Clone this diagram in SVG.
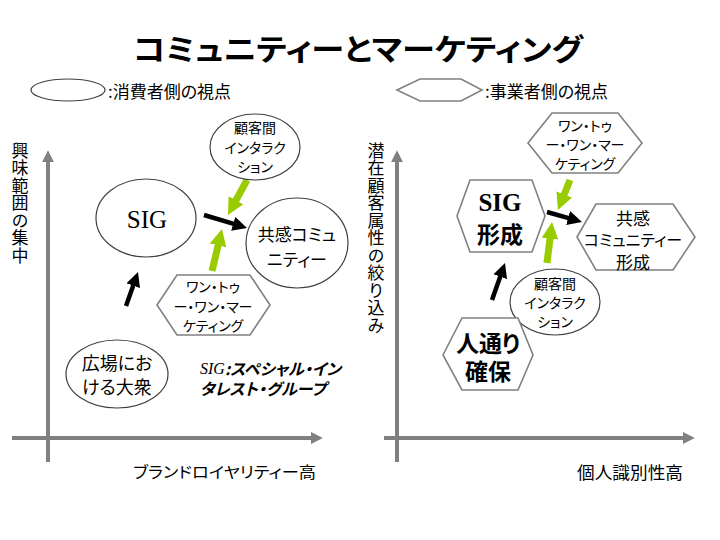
<svg xmlns="http://www.w3.org/2000/svg" width="720" height="540" viewBox="0 0 720 540">
<style>
text{font-family:"Noto Sans CJK JP","Liberation Sans",sans-serif;fill:#000;font-feature-settings:"palt";}
.c{text-anchor:middle;dominant-baseline:central;}
.v{writing-mode:vertical-rl;font-feature-settings:normal;font-size:17px;letter-spacing:0.5px;}
.ell{fill:#fff;stroke:#404040;stroke-width:1.2;}
.hex{fill:#fff;stroke:#808080;stroke-width:1.6;}
.axis{stroke:#808080;stroke-width:4;fill:none;}
.blk{stroke:#000;stroke-width:4.5;fill:none;}
.grn{stroke:#99CC00;stroke-width:7;fill:none;}
.s14{font-size:14px;}
.s17{font-size:17px;}
.ser{font-family:"Liberation Serif","DejaVu Serif",serif;}
</style>
<defs>
<marker id="ha" viewBox="0 0 10 10" refX="1" refY="5" markerWidth="3" markerHeight="3" orient="auto"><path d="M0,0L10,5L0,10z" fill="#808080"/></marker>
<marker id="hb" viewBox="0 0 10 10" refX="1" refY="5" markerWidth="3.2" markerHeight="3.2" orient="auto"><path d="M0,0L10,5L0,10z" fill="#000"/></marker>
<marker id="hg" viewBox="0 0 10 10" refX="1" refY="5" markerWidth="2.4" markerHeight="2.4" orient="auto"><path d="M0,0L10,5L0,10z" fill="#99CC00"/></marker>
</defs>
<rect width="720" height="540" fill="#fff"/>

<g id="title"><text x="358" y="47" class="c" textLength="450" lengthAdjust="spacingAndGlyphs" style="font-size:30px;font-weight:bold">コミュニティーとマーケティング</text></g>

<g id="legend-consumer">
<ellipse class="ell" cx="68" cy="90" rx="37" ry="11"/>
<text x="108" y="90" class="s17" style="dominant-baseline:central">:消費者側の視点</text>
</g>
<g id="legend-business">
<polygon class="hex" points="397,90 420,79 461,79 482,90 461,101 420,101"/>
<text x="485" y="90" class="s17" style="dominant-baseline:central">:事業者側の視点</text>
</g>

<g id="axes">
<line class="axis" x1="48" y1="462" x2="48" y2="161" marker-end="url(#ha)"/>
<line class="axis" x1="12" y1="438" x2="312" y2="438" marker-end="url(#ha)"/>
<line class="axis" x1="397" y1="462" x2="397" y2="161" marker-end="url(#ha)"/>
<line class="axis" x1="384" y1="438" x2="684" y2="438" marker-end="url(#ha)"/>
</g>

<g id="axis-labels">
<text class="v" x="20" y="142">興味範囲の集中</text>
<text class="v" x="376" y="142">潜在顧客属性の絞り込み</text>
<text x="224.5" y="471" class="c" textLength="183" lengthAdjust="spacingAndGlyphs" style="font-size:15.5px">ブランドロイヤリティー高</text>
<text x="630" y="471" class="c s17" textLength="106" lengthAdjust="spacingAndGlyphs">個人識別性高</text>
</g>

<g id="connectors">
<line class="blk" x1="126" y1="306" x2="133.7" y2="284.3" marker-end="url(#hb)"/>
<line class="blk" x1="204" y1="215" x2="234.6" y2="224.2" marker-end="url(#hb)"/>
<line class="grn" x1="247" y1="180" x2="235.2" y2="201.7" marker-end="url(#hg)"/>
<line class="grn" x1="212" y1="271" x2="218.5" y2="243.7" marker-end="url(#hg)"/>
<line class="blk" x1="492" y1="300" x2="500.7" y2="275.3" marker-end="url(#hb)"/>
<line class="blk" x1="547" y1="212" x2="569.5" y2="218.4" marker-end="url(#hb)"/>
<line class="grn" x1="570" y1="180" x2="563.6" y2="196" marker-end="url(#hg)"/>
<line class="grn" x1="547" y1="263" x2="550.2" y2="237" marker-end="url(#hg)"/>
</g>

<g id="L-interaction">
<ellipse class="ell" cx="255" cy="147" rx="45" ry="33"/>
<text class="c s14" x="255" y="127">顧客間</text>
<text class="c s14" x="255" y="147">インタラク</text>
<text class="c s14" x="255" y="166">ション</text>
</g>
<g id="L-sig">
<ellipse class="ell" cx="146" cy="218" rx="50" ry="39"/>
<text class="c ser" x="147" y="219" style="font-size:25px">SIG</text>
</g>
<g id="L-community">
<ellipse class="ell" cx="297" cy="243" rx="51" ry="45"/>
<text class="c s17" x="297" y="233">共感コミュ</text>
<text class="c s17" x="297" y="258">ニティー</text>
</g>
<g id="L-one2one">
<polygon class="hex" points="157,305 177,275 250,275 270,305 250,335 177,335"/>
<text class="c s14" x="213" y="286">ワン・トゥ</text>
<text class="c s14" x="213" y="306">ー・ワン・マー</text>
<text class="c s14" x="213" y="325">ケティング</text>
</g>
<g id="L-mass">
<ellipse class="ell" cx="117" cy="374" rx="51" ry="34"/>
<text class="c" x="117" y="362" style="font-size:18px">広場にお</text>
<text class="c" x="117" y="386" style="font-size:18px">ける大衆</text>
</g>
<g id="L-note">
<text x="200" y="368" style="font-size:16px;font-weight:bold;font-style:italic;dominant-baseline:central"><tspan class="ser" style="font-weight:normal">SIG</tspan>:スペシャル・イン</text>
<text x="200" y="388" style="font-size:16px;font-weight:bold;font-style:italic;dominant-baseline:central">タレスト・グループ</text>
</g>

<g id="R-one2one">
<polygon class="hex" points="528,143 552,113 618,113 642,143 618,173 552,173"/>
<text class="c s14" x="585" y="125">ワン・トゥ</text>
<text class="c s14" x="585" y="144">ー・ワン・マー</text>
<text class="c s14" x="585" y="163">ケティング</text>
</g>
<g id="R-sig">
<polygon class="hex" points="457,216 470,180 532,180 545,216 532,252 470,252"/>
<text class="c ser" x="500" y="202" style="font-size:25px;font-weight:bold">SIG</text>
<text class="c" x="500" y="233" style="font-size:23px;font-weight:bold">形成</text>
</g>
<g id="R-community">
<polygon class="hex" points="577,237 596,204 673,204 695,237 673,270 596,270"/>
<text class="c s17" x="633" y="217">共感</text>
<text class="c" x="633" y="239" style="font-size:16px">コミュニティー</text>
<text class="c s17" x="633" y="261">形成</text>
</g>
<g id="R-interaction">
<ellipse class="ell" cx="555" cy="302" rx="45" ry="33"/>
<text class="c s14" x="555" y="283">顧客間</text>
<text class="c s14" x="555" y="302">インタラク</text>
<text class="c s14" x="555" y="321">ション</text>
</g>
<g id="R-traffic">
<polygon class="hex" points="443,355 462,318 518,318 533,355 518,390 462,390"/>
<text class="c" x="488" y="342" style="font-size:23px;font-weight:bold">人通り</text>
<text class="c" x="488" y="370" style="font-size:23px;font-weight:bold">確保</text>
</g>
</svg>
